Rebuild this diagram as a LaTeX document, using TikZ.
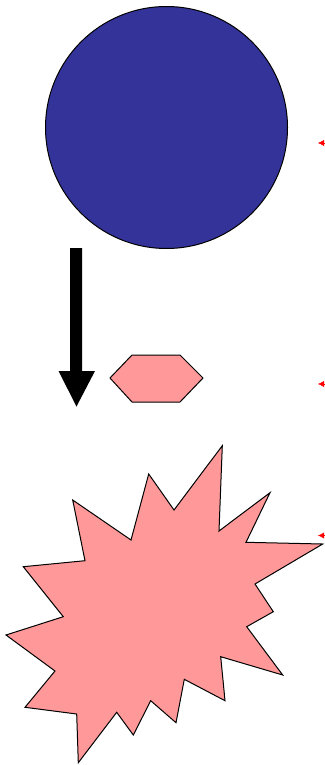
\documentclass[tikz,border=0pt]{standalone}
\usetikzlibrary{arrows.meta}
\definecolor{darkblue}{HTML}{333399}
\definecolor{salmon}{HTML}{FF9999}
\tikzset{
    bluedisc/.style = {
        fill=darkblue, draw=black, line width=1pt
    },
    pinkshape/.style = {
        fill=salmon, draw=black, line width=1pt, line join=miter
    },
    blockarrow/.style = {
        fill=black, draw=none
    },
    redtip/.style = {
        draw=red, -{Latex[length=6pt,width=6pt]}
    }
}
\begin{document}
\begin{tikzpicture}[x=1pt, y=-1pt]
\useasboundingbox (0,0) rectangle (324,765);

% circle
\coordinate (disc) at (166.5,127.5);
\draw[bluedisc] (disc) circle (121);

% thick arrow
\fill[blockarrow] (70,248) -- (82,248) -- (82,371) -- (95,371) -- (76.5,406.5)
    -- (58.5,371) -- (70,371) -- cycle;

% hexagon
\draw[pinkshape] (110,378) -- (132,355) -- (180,355) -- (203,378)
    -- (180,402) -- (132,402) -- cycle;

% burst
\draw[pinkshape] (222.3,445.7) -- (219,531) -- (270,492.7) -- (246,542.3)
    -- (322.7,544) -- (255,584) -- (273.3,611.7) -- (246.7,626.7)
    -- (282.7,675) -- (220.7,656.7) -- (225,700.7) -- (184.3,679.3)
    -- (176,722.7) -- (150.7,700.7) -- (133.3,735) -- (116.7,712.3)
    -- (78.3,762.7) -- (76.7,714) -- (25,707.3) -- (55,671)
    -- (6,635) -- (63.3,616.7) -- (23.3,566.7) -- (85,560.7)
    -- (72.7,500) -- (131,540) -- (148.7,474) -- (174,510) -- cycle;

% red pointers
\coordinate (p1) at (332,143);
\coordinate (t1) at (318,143);
\coordinate (p2) at (332,384);
\coordinate (t2) at (318,384);
\coordinate (p3) at (332,535.5);
\coordinate (t3) at (318,535.5);
\draw[redtip] (p1) -- (t1);
\draw[redtip] (p2) -- (t2);
\draw[redtip] (p3) -- (t3);

\end{tikzpicture}
\end{document}
